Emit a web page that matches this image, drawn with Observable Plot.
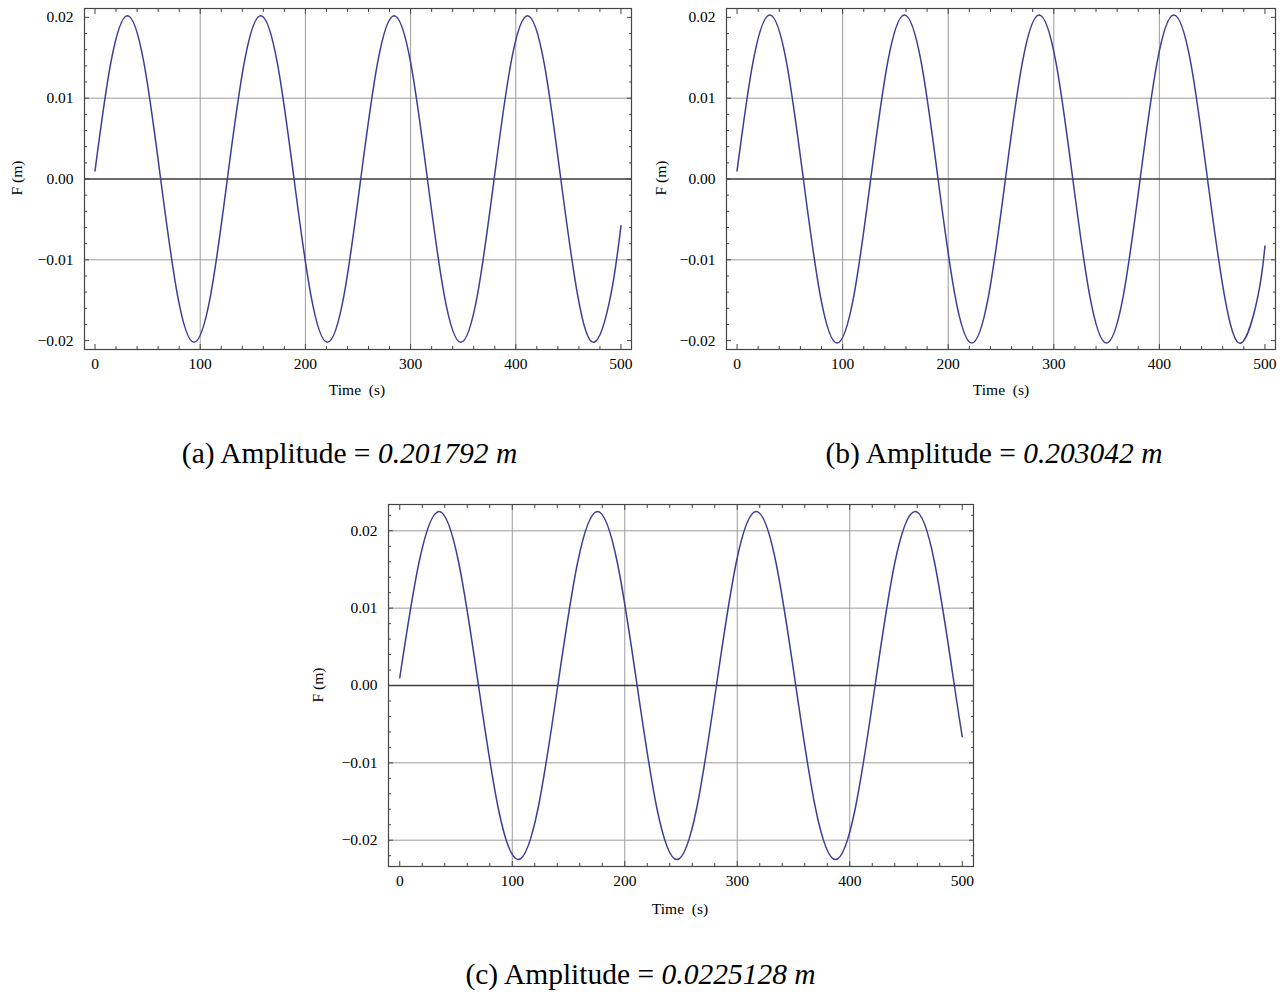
<!DOCTYPE html>
<html>
<head>
<meta charset="utf-8">
<script src="https://cdn.jsdelivr.net/npm/d3@7"></script>
<script src="https://cdn.jsdelivr.net/npm/@observablehq/plot@0.6"></script>
<style>
  html, body { margin: 0; padding: 0; background: #fff; }
  #root { position: relative; width: 1282px; height: 996px; overflow: hidden; font-family: "Liberation Serif", "DejaVu Serif", serif; color: #000; }
  .panel { position: absolute; }
  .lab { position: absolute; font-family: "Liberation Serif", serif; font-size: 15.5px; white-space: pre; line-height: 1; }
  .ylab { transform: translate(-50%, -50%) rotate(-90deg); }
  .xlab { transform: translate(-50%, -50%); }
  .cap { position: absolute; font-family: "Liberation Serif", serif; font-size: 29.5px; white-space: pre; transform: translate(-50%, -50%); line-height: 1; }
  .cap i { font-style: italic; }
</style>
</head>
<body>
<div id="root"></div>
<script>
// ---- Data ----
const timeA = [0, 14.9, 30.7, 46.6, 62.4, 78.3, 94.1, 110.0, 125.8, 141.7, 157.5, 173.4, 189.2, 205.1, 220.9, 236.8, 252.6, 268.5, 284.3, 300.2, 316.0, 331.9, 347.7, 363.6, 379.4, 395.3, 411.1, 427.0, 442.8, 458.7, 474.5, 490.4, 500];
const valuesA = [0.0010,
  0.0143, 0.0202, 0.0143, 0, -0.0143, -0.0202, -0.0143, 0,
  0.0143, 0.0202, 0.0143, 0, -0.0143, -0.0202, -0.0143, 0,
  0.0143, 0.0202, 0.0143, 0, -0.0143, -0.0202, -0.0143, 0,
  0.0143, 0.0202, 0.0143, 0, -0.0143, -0.0202, -0.0143,
  -0.0058];

const timeB = [0, 15.0, 30.9, 46.9, 62.8, 78.8, 94.7, 110.7, 126.6, 142.6, 158.5, 174.5, 190.4, 206.4, 222.3, 238.3, 254.2, 270.2, 286.1, 302.1, 318.0, 334.0, 349.9, 365.9, 381.8, 397.8, 413.7, 429.7, 445.6, 461.6, 477.5, 493.5, 500];
const valuesB = [0.0010,
  0.0144, 0.0203, 0.0144, 0, -0.0144, -0.0203, -0.0144, 0,
  0.0144, 0.0203, 0.0144, 0, -0.0144, -0.0203, -0.0144, 0,
  0.0144, 0.0203, 0.0144, 0, -0.0144, -0.0203, -0.0144, 0,
  0.0144, 0.0203, 0.0144, 0, -0.0144, -0.0203, -0.0144,
  -0.0083];

const timeC = [0, 17.1, 34.8, 52.4, 70.0, 87.6, 105.3, 122.9, 140.5, 158.1, 175.8, 193.4, 211.0, 228.6, 246.3, 263.9, 281.5, 299.1, 316.8, 334.4, 352.0, 369.6, 387.3, 404.9, 422.5, 440.1, 457.8, 475.4, 493.0, 500];
const valuesC = [0.0010,
  0.0159, 0.0225, 0.0159, 0, -0.0159, -0.0225, -0.0159, 0,
  0.0159, 0.0225, 0.0159, 0, -0.0159, -0.0225, -0.0159, 0,
  0.0159, 0.0225, 0.0159, 0, -0.0159, -0.0225, -0.0159, 0,
  0.0159, 0.0225, 0.0159, 0,
  -0.0066];

// tick values and labels
const xTicks = [0, 100, 200, 300, 400, 500];
const xTickLabels = ["0", "100", "200", "300", "400", "500"];
const yTicks = [0.02, 0.01, 0, -0.01, -0.02];
const yTickLabels = ["0.02", "0.01", "0.00", "\u22120.01", "\u22120.02"];

const xGrid = [100, 200, 300, 400];
const yGridAB = [0.01, -0.01];
const yGridC = [0.02, 0.01, -0.01, -0.02];

const captions = [
  {label: "(a) Amplitude = ", value: "0.201792 m"},
  {label: "(b) Amplitude = ", value: "0.203042 m"},
  {label: "(c) Amplitude = ", value: "0.0225128 m"}
];
const xLabel = "Time  (s)";
const yLabel = "F (m)";

// ---- Rendering ----
const root = document.getElementById("root");
const LINE = "#3d3d99";
const FRAME = "#444";
const GRID = "#9c9c9c";

function minorTicks(step, lo, hi, majorStep) {
  const out = [];
  const n0 = Math.ceil(lo / step - 1e-9), n1 = Math.floor(hi / step + 1e-9);
  for (let n = n0; n <= n1; n++) {
    const v = +(n * step).toFixed(6);
    if (Math.abs(v / majorStep - Math.round(v / majorStep)) > 1e-6) out.push(v);
  }
  return out;
}

function panel({left, top, width, height, mL, mR, mT, mB, yDomain, yGrid, t, v}) {
  const xDomain = [-10, 510];
  const data = t.map((d, i) => ({t: d, f: v[i]}));
  const yMaj = yTicks.filter(d => d >= yDomain[0] && d <= yDomain[1]);
  const xMin = minorTicks(20, xDomain[0], xDomain[1], 100);
  const yMin = minorTicks(0.002, yDomain[0], yDomain[1], 0.01);
  const xfmt = d => xTickLabels[xTicks.indexOf(d)];
  const yfmt = d => yTickLabels[yTicks.indexOf(d)];
  const tickStyle = {fill: "none", stroke: FRAME, strokeWidth: 1};
  const svg = Plot.plot({
    width, height,
    marginLeft: mL, marginRight: mR, marginTop: mT, marginBottom: mB,
    x: {domain: xDomain, label: null},
    y: {domain: yDomain, label: null},
    style: {fontFamily: "'Liberation Serif', serif", fontSize: "15.5px", background: "transparent", color: "#000"},
    marks: [
      Plot.ruleX(xGrid, {stroke: GRID, strokeWidth: 1}),
      Plot.ruleY(yGrid, {stroke: GRID, strokeWidth: 1}),
      Plot.ruleY([0], {stroke: "#3a3a3a", strokeWidth: 1.4}),
      Plot.line(data, {x: "t", y: "f", curve: "natural", stroke: LINE, strokeWidth: 1.5}),
      // inward ticks on all four sides
      Plot.axisX(xTicks, {anchor: "bottom", tickSize: -5, ...tickStyle}),
      Plot.axisX(xMin, {anchor: "bottom", tickSize: -3, ...tickStyle}),
      Plot.axisX(xTicks, {anchor: "top", tickSize: -5, ...tickStyle}),
      Plot.axisX(xMin, {anchor: "top", tickSize: -3, ...tickStyle}),
      Plot.axisY(yMaj, {anchor: "left", tickSize: -5, ...tickStyle}),
      Plot.axisY(yMin, {anchor: "left", tickSize: -3, ...tickStyle}),
      Plot.axisY(yMaj, {anchor: "right", tickSize: -5, ...tickStyle}),
      Plot.axisY(yMin, {anchor: "right", tickSize: -3, ...tickStyle}),
      // labels
      Plot.axisX(xTicks, {anchor: "bottom", tickSize: 0, tickPadding: 8, tickFormat: xfmt, fill: "#000"}),
      Plot.axisY(yMaj, {anchor: "left", tickSize: 0, tickPadding: 11, tickFormat: yfmt, fill: "#000"}),
      Plot.frame({stroke: FRAME, strokeWidth: 1.2})
    ]
  });
  const div = document.createElement("div");
  div.className = "panel";
  div.style.left = left + "px";
  div.style.top = top + "px";
  div.appendChild(svg);
  root.appendChild(div);
}

function addLabel(cls, text, x, y) {
  const d = document.createElement("div");
  d.className = "lab " + cls;
  d.textContent = text;
  d.style.left = x + "px";
  d.style.top = y + "px";
  root.appendChild(d);
}
function addCaption(c, x, y) {
  const d = document.createElement("div");
  d.className = "cap";
  d.appendChild(document.createTextNode(c.label));
  const i = document.createElement("i");
  i.textContent = c.value;
  d.appendChild(i);
  d.style.left = x + "px";
  d.style.top = y + "px";
  root.appendChild(d);
}

panel({left: 0, top: 0, width: 645, height: 400, mL: 84, mR: 14, mT: 8, mB: 51,
  yDomain: [-0.0211, 0.0211], yGrid: yGridAB, t: timeA, v: valuesA});
panel({left: 642, top: 0, width: 640, height: 400, mL: 84, mR: 7, mT: 8, mB: 51,
  yDomain: [-0.0211, 0.0211], yGrid: yGridAB, t: timeB, v: valuesB});
panel({left: 304, top: 496, width: 679, height: 400, mL: 84, mR: 10, mT: 8, mB: 30,
  yDomain: [-0.0234, 0.0234], yGrid: yGridC, t: timeC, v: valuesC});

addLabel("ylab", yLabel, 17, 178);
addLabel("xlab", xLabel, 357, 390);
addLabel("ylab", yLabel, 661, 178);
addLabel("xlab", xLabel, 1001, 390);
addLabel("ylab", yLabel, 318, 685);
addLabel("xlab", xLabel, 680, 909);

addCaption(captions[0], 349.5, 454);
addCaption(captions[1], 994, 454);
addCaption(captions[2], 640.5, 975);
</script>
</body>
</html>
